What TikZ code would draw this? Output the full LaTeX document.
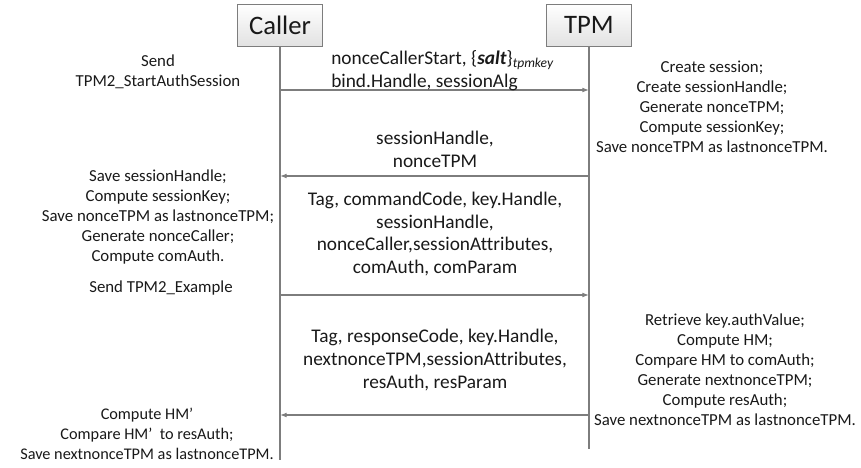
\documentclass[tikz,border=0pt]{standalone}
\usepackage{fontspec}
\setmainfont{Carlito}[Ligatures=NoCommon]
\usetikzlibrary{calc}
\usetikzlibrary{math}
\usetikzlibrary{arrows.meta}

\begin{document}
\begin{tikzpicture}[x=0.75pt, y=-0.75pt]
    \definecolor{lineGrey}{RGB}{125, 125, 125}
    \definecolor{boxGrey}{RGB}{226, 226, 226}
    \definecolor{textDark}{RGB}{25, 25, 25}
    
    \tikzmath {
        \callerX = 280;
        \tpmX = 589;
        \boxY = 25;
        \callerEnd = 460;
        \tpmEnd = 449;
        \leftX = 158;
        \midX = 435;
    }
    
    \tikzset{
        actor/.style={draw=lineGrey, top color=white, bottom color=boxGrey, minimum width=64pt, minimum height=31.5pt, inner sep=0pt, font=\fontsize{20}{24}\selectfont, text=textDark},
        lifeline/.style={draw=lineGrey, line width=0.8pt},
        msg/.style={draw=lineGrey, line width=0.8pt, -{Latex[length=5pt, width=3.6pt]}},
        sidenote/.style={align=center, inner sep=0pt, text=textDark, font=\fontsize{12.6}{15}\selectfont},
        payload/.style={align=center, inner sep=0pt, text=textDark, font=\fontsize{14.5}{17.2}\selectfont},
    }
    
    \useasboundingbox (0,0) rectangle (861,468);
    
    \node[actor] (caller) at (\callerX, \boxY) {Caller};
    \node[actor] (tpm) at (\tpmX, \boxY) {TPM};
    
    \coordinate (caller_end) at (\callerX, \callerEnd);
    \coordinate (tpm_end) at (\tpmX, \tpmEnd);
    \draw[lifeline] (caller.south) -- (caller_end);
    \draw[lifeline] (tpm.south) -- (tpm_end);
    
    \foreach \i/\y in {1/90, 2/176, 3/295, 4/415}
    {
        \coordinate (caller_m\i) at (\callerX, \y);
        \coordinate (tpm_m\i) at (\tpmX, \y);
    }
    
    \draw[msg] (caller_m1) -- (tpm_m1);
    \draw[msg] (tpm_m2) -- (caller_m2);
    \draw[msg] (caller_m3) -- (tpm_m3);
    \draw[msg] (tpm_m4) -- (caller_m4);
    
    % start session
    \node[sidenote] (send_start) at (\leftX, 72) {Send\\TPM2\_StartAuthSession};
    \node[payload, align=left, anchor=west] (start_args) at (331, 71)
        {nonceCallerStart, \{\textbf{\textit{salt}}\}\textsubscript{\textit{tpmkey}}\\bind.Handle, sessionAlg};
    \node[sidenote] (tpm_create) at (712, 106.5)
        {Create session;\\Create sessionHandle;\\Generate nonceTPM;\\Compute sessionKey;\\Save nonceTPM as lastnonceTPM.};
    \node[payload] (start_reply) at (\midX, 149) {sessionHandle,\\nonceTPM};
    
    % command
    \node[sidenote] (caller_prep) at (\leftX, 217)
        {Save sessionHandle;\\Compute sessionKey;\\Save nonceTPM as lastnonceTPM;\\Generate nonceCaller;\\Compute comAuth.};
    \node[sidenote] (send_example) at (161, 288) {Send TPM2\_Example};
    \node[payload] (cmd_args) at (\midX, 234)
        {Tag, commandCode, key.Handle,\\sessionHandle,\\nonceCaller,sessionAttributes,\\comAuth, comParam};
    \node[sidenote] (tpm_check) at (725, 369.5)
        {Retrieve key.authValue;\\Compute HM;\\Compare HM to comAuth;\\Generate nextnonceTPM;\\Compute resAuth;\\Save nextnonceTPM as lastnonceTPM.};
    \node[payload] (resp_args) at (\midX, 360)
        {Tag, responseCode, key.Handle,\\nextnonceTPM,sessionAttributes,\\resAuth, resParam};
    \node[sidenote, font=\fontsize{12.2}{15}\selectfont] (caller_check) at (147, 434)
        {Compute HM’\\Compare HM’\ \ to resAuth;\\Save nextnonceTPM as lastnonceTPM.};
    
\end{tikzpicture}
\end{document}
